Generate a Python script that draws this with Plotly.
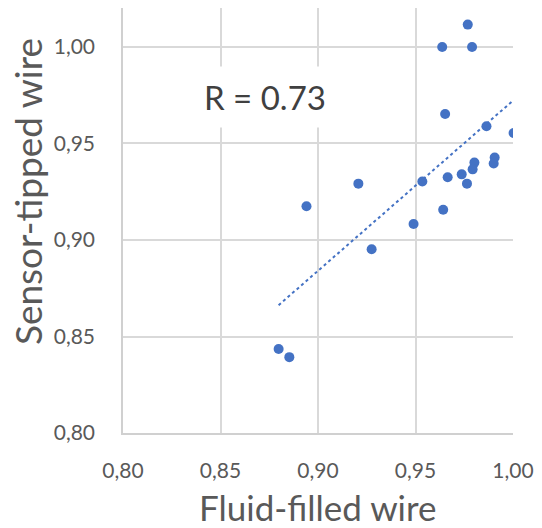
import numpy as np
import plotly.graph_objects as go

# values
fluid_filled = [0.9768, 0.9637, 0.9790, 0.9652, 0.9864, 1.0003, 0.9906, 0.9901,
                0.9802, 0.9793, 0.9737, 0.9665, 0.9764, 0.9535, 0.9207, 0.8941,
                0.9642, 0.9490, 0.9275, 0.8798, 0.8853]
sensor_tipped = [1.0116, 1.0000, 1.0000, 0.9653, 0.9589, 0.9554, 0.9427, 0.9396,
                 0.9401, 0.9366, 0.9340, 0.9325, 0.9292, 0.9303, 0.9292, 0.9175,
                 0.9157, 0.9083, 0.8952, 0.8435, 0.8393]
tick_vals = [0.80, 0.85, 0.90, 0.95, 1.00]
tick_text = ["0,80", "0,85", "0,90", "0,95", "1,00"]
r_label = "R = 0.73"

blue = "#4472C4"
grey = "#595959"
grid = "#d9d9d9"
font = "Lato"

# linear trend line across the data range
slope, icpt = np.polyfit(fluid_filled, sensor_tipped, 1)
tx = np.array([min(fluid_filled), max(fluid_filled)])
ty = slope * tx + icpt

fig = go.Figure()
fig.add_trace(go.Scatter(x=tx, y=ty, mode="lines",
                         line=dict(color=blue, width=2, dash="dot"),
                         hoverinfo="skip"))
fig.add_trace(go.Scatter(x=fluid_filled, y=sensor_tipped, mode="markers",
                         marker=dict(color=blue, size=10)))

fig.update_layout(
    width=542, height=528,
    margin=dict(l=123, r=25, t=8, b=95),
    paper_bgcolor="white", plot_bgcolor="white",
    showlegend=False,
    font=dict(family=font, color=grey),
)
fig.update_xaxes(range=[0.80, 1.00], tickvals=tick_vals, ticktext=tick_text,
                 showgrid=True, gridcolor=grid, gridwidth=1.5,
                 showline=True, linecolor="#d0d0d0", linewidth=1.5,
                 zeroline=False, tickfont=dict(size=21, color=grey),
                 ticklabelstandoff=18)
fig.update_yaxes(range=[0.80, 1.0202], tickvals=tick_vals, ticktext=tick_text,
                 showgrid=True, gridcolor=grid, gridwidth=1.5,
                 showline=True, linecolor="#d0d0d0", linewidth=1.5,
                 zeroline=False, tickfont=dict(size=21, color=grey),
                 ticklabelstandoff=22)

fig.add_annotation(text=r_label, x=0.8726, y=0.974, xref="x", yref="y",
                   showarrow=False, bgcolor="white", borderpad=10,
                   font=dict(size=33, color="#404040", family=font))
fig.add_annotation(text="Fluid-filled wire", x=0.50, y=-0.175,
                   xref="paper", yref="paper", showarrow=False,
                   xanchor="center", yanchor="middle",
                   font=dict(size=35, color=grey, family=font))
fig.add_annotation(text="Sensor-tipped wire", x=-0.245, y=0.568,
                   xref="paper", yref="paper", showarrow=False, textangle=-90,
                   xanchor="center", yanchor="middle",
                   font=dict(size=37, color=grey, family=font))

# drop the default body margin so the figure fills the window exactly
fig.write_html("out.html", config={"displayModeBar": False},
               post_script="document.body.style.margin='0';document.body.style.overflow='hidden';")
